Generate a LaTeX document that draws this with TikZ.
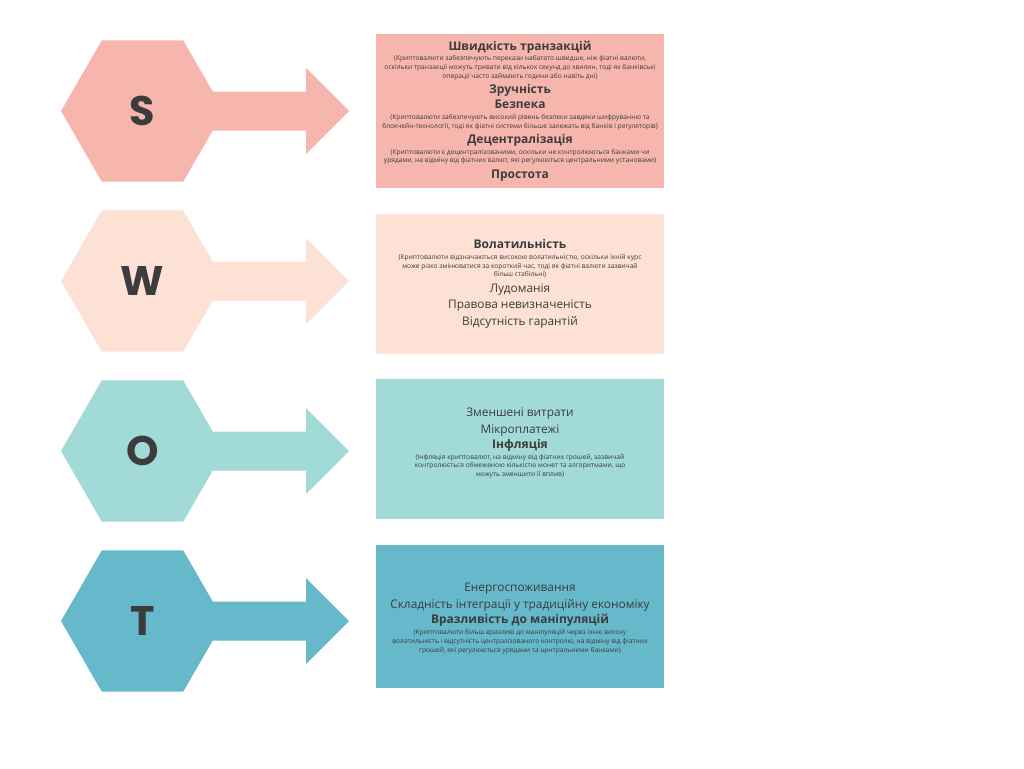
\documentclass[tikz,border=0pt]{standalone}
\usepackage{fontspec}
\setmainfont{Open Sans}
\newfontfamily\letterfont{Poppins}
\usetikzlibrary{shapes.geometric}
\definecolor{swotS}{HTML}{F6B6AD}
\definecolor{swotW}{HTML}{FDE1D4}
\definecolor{swotO}{HTML}{A1DAD7}
\definecolor{swotT}{HTML}{66B9CB}
\definecolor{txt}{HTML}{3C3C3C}
\newcommand{\ttl}{\fontsize{9}{11.5}\selectfont\bfseries\spaceskip=0.26em\relax}
\newcommand{\sml}{\vspace{1.3pt}\fontsize{5}{6.6}\selectfont\mdseries\spaceskip=0.26em\relax}
\newcommand{\itm}{\fontsize{8.9}{12.5}\selectfont\mdseries\spaceskip=0.26em\relax}
\begin{document}
\begin{tikzpicture}[
    x=0.75pt, y=-0.75pt,
    hexa/.style={regular polygon, regular polygon sides=6,
      minimum size=122.25pt, inner sep=0pt, text=txt,
      font={\letterfont\bfseries\fontsize{31}{31}\selectfont}},
    infobox/.style={minimum width=216pt, text width=212pt,
      execute at begin node=\centering, inner sep=2pt, text=txt}
  ]
    \useasboundingbox (0,0) rectangle (1024,768);
    % hexagons with their arrows
    \foreach \nm/\ltr/\col/\yy in {hS/S/swotS/111, hW/W/swotW/281,
        hO/O/swotO/451, hT/T/swotT/621}{
      \node[hexa, fill=\col] (\nm) at (142.5,\yy) {\ltr};
      \fill[\col, shift={(\nm.center)}] (60,-19.5) -- (163.5,-19.5)
        -- (163.5,-43) -- (206.5,0) -- (163.5,43) -- (163.5,19.5)
        -- (60,19.5) -- cycle;
    }
    % text boxes
    \node[infobox, fill=swotS, minimum height=115.5pt] (bS) at (520,111)
      {\ttl Швидкість транзакцій\par
       \sml (Криптовалюти забезпечують перекази набагато швидше, ніж фіатні валюти,\\
       оскільки транзакції можуть тривати від кількох секунд до хвилин, тоді як банківські\\
       операції часто займають години або навіть дні)\par
       \ttl Зручність\par
       Безпека\par
       \sml (Криптовалюти забезпечують високий рівень безпеки завдяки шифруванню та\\
       блокчейн-технології, тоді як фіатні системи більше залежать від банків і регуляторів)\par
       \ttl Децентралізація\par
       \sml (Криптовалюти є децентралізованими, оскільки не контролюються банками чи\\
       урядами, на відміну від фіатних валют, які регулюються центральними установами)\par
       \ttl Простота\par};
    \node[infobox, fill=swotW, minimum height=105pt] (bW) at (520,284)
      {\ttl Волатильність\par
       \sml (Криптовалюти відзначаються високою волатильністю, оскільки їхній курс\\
       може різко змінюватися за короткий час, тоді як фіатні валюти зазвичай\\
       більш стабільні)\par\vspace{-1pt}
       \itm Лудоманія\par
       Правова невизначеність\par
       Відсутність гарантій\par};
    \node[infobox, fill=swotO, minimum height=105pt] (bO) at (520,449)
      {\itm Зменшені витрати\par
       Мікроплатежі\par
       \ttl Інфляція\par
       \sml (Інфляція криптовалют, на відміну від фіатних грошей, зазвичай\\
       контролюється обмеженою кількістю монет та алгоритмами, що\\
       можуть зменшити її вплив)\par\vspace{9pt}};
    \node[infobox, fill=swotT, minimum height=107.25pt] (bT) at (520,616.5)
      {\itm Енергоспоживання\par
       Складність інтеграції у традиційну економіку\par
       \ttl Вразливість до маніпуляцій\par
       \sml (Криптовалюти більш вразливі до маніпуляцій через їхню високу\\
       волатильність і відсутність централізованого контролю, на відміну від фіатних\\
       грошей, які регулюються урядами та центральними банками)\par\vspace{-3pt}};
  \end{tikzpicture}
\end{document}
